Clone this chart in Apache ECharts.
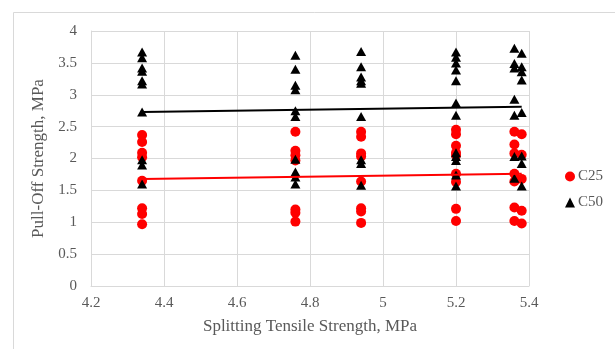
<!DOCTYPE html>
<html>
<head>
<meta charset="utf-8">
<script src="https://cdn.jsdelivr.net/npm/echarts@6/dist/echarts.min.js"></script>
<style>html,body{margin:0;padding:0;background:#fff}#chart{width:615px;height:349px}</style>
</head>
<body>
<div id="chart"></div>
<script>
// Splitting tensile strength (x) columns
const columnX = [4.34, 4.76, 4.94, 5.2, 5.36, 5.38];
// C25 pull-off strength values for each column
const c25Col1 = [2.37, 2.26, 2.09, 2.02, 1.65, 1.22, 1.13, 0.97];
const c25Col2 = [2.42, 2.12, 2.05, 1.97, 1.20, 1.15, 1.01];
const c25Col3 = [2.42, 2.34, 2.08, 2.03, 1.64, 1.22, 1.17, 0.99];
const c25Col4 = [2.45, 2.38, 2.20, 2.09, 2.05, 1.76, 1.63, 1.21, 1.02];
const c25Col5 = [2.42, 2.22, 2.08, 1.76, 1.64, 1.23, 1.02];
const c25Col6 = [2.38, 2.06, 1.68, 1.18, 0.98];
// C50 pull-off strength values for each column
const c50Col1 = [3.67, 3.58, 3.42, 3.37, 3.22, 3.17, 2.73, 1.98, 1.90, 1.60];
const c50Col2 = [3.62, 3.40, 3.15, 3.08, 2.75, 2.66, 1.99, 1.79, 1.71, 1.60];
const c50Col3 = [3.68, 3.44, 3.28, 3.22, 3.18, 2.66, 1.98, 1.92, 1.58];
const c50Col4 = [3.67, 3.59, 3.50, 3.39, 3.22, 2.87, 2.68, 2.09, 2.03, 1.97, 1.74, 1.57];
const c50Col5 = [3.73, 3.49, 3.42, 2.93, 2.68, 2.03, 1.69];
const c50Col6 = [3.65, 3.44, 3.36, 3.23, 2.72, 2.04, 1.92, 1.57];
// Linear trendline end points (x, y)
const trendX = [4.34, 5.38];
const c25TrendY = [1.68, 1.76];
const c50TrendY = [2.73, 2.81];
// Axis ticks
const xTicks = [4.2, 4.4, 4.6, 4.8, 5, 5.2, 5.4];
const yTicks = [0, 0.5, 1, 1.5, 2, 2.5, 3, 3.5, 4];

const c25Cols = [c25Col1, c25Col2, c25Col3, c25Col4, c25Col5, c25Col6];
const c50Cols = [c50Col1, c50Col2, c50Col3, c50Col4, c50Col5, c50Col6];
function toPoints(cols) {
  const out = [];
  cols.forEach((vals, i) => vals.forEach(v => out.push([columnX[i], v])));
  return out;
}
const font = '"Liberation Serif", "Times New Roman", serif';
const gray = '#595959';

const chart = echarts.init(document.getElementById('chart'), null, {renderer: 'canvas'});
chart.setOption({
  animation: false,
  backgroundColor: '#fff',
  graphic: [{
    type: 'rect', z: -10, silent: true,
    shape: {x: 13.5, y: 12.5, width: 700, height: 400},
    style: {fill: 'none', stroke: '#d9d9d9', lineWidth: 1}
  }],
  grid: {left: 91, right: 86, top: 31, bottom: 63},
  xAxis: {
    type: 'value', min: xTicks[0], max: xTicks[xTicks.length - 1], interval: 0.2,
    name: 'Splitting Tensile Strength, MPa', nameLocation: 'middle', nameGap: 32,
    nameTextStyle: {fontFamily: font, fontSize: 17, color: gray},
    axisLine: {show: true, lineStyle: {color: '#d9d9d9'}},
    axisTick: {show: false},
    axisLabel: {fontFamily: font, fontSize: 15, color: gray, margin: 10,
      formatter: v => String(Math.round(v * 10) / 10)},
    splitLine: {show: true, lineStyle: {color: '#d9d9d9'}}
  },
  yAxis: {
    type: 'value', min: yTicks[0], max: yTicks[yTicks.length - 1], interval: 0.5,
    name: 'Pull-Off Strength, MPa', nameLocation: 'middle', nameGap: 40, nameRotate: 90,
    nameTextStyle: {fontFamily: font, fontSize: 17, color: gray},
    axisLine: {show: true, lineStyle: {color: '#d9d9d9'}},
    axisTick: {show: false},
    axisLabel: {fontFamily: font, fontSize: 15, color: gray, margin: 14},
    splitLine: {show: true, lineStyle: {color: '#d9d9d9'}}
  },
  legend: {
    data: ['C25', 'C50'], orient: 'vertical', left: 560, top: 164,
    itemWidth: 10, itemHeight: 10, itemGap: 11,
    textStyle: {fontFamily: font, fontSize: 15, color: gray, padding: [0, 0, 0, -2]}
  },
  series: [
    {name: 'C25', type: 'scatter', data: toPoints(c25Cols), symbol: 'circle', symbolSize: 10,
      itemStyle: {color: '#ff0000', opacity: 1}, z: 2},
    {name: 'C50', type: 'scatter', data: toPoints(c50Cols), symbol: 'triangle', symbolSize: [10, 9],
      itemStyle: {color: '#000000', opacity: 1}, z: 3},
    {name: 'C25 trend', type: 'line', data: trendX.map((x, i) => [x, c25TrendY[i]]),
      showSymbol: false, lineStyle: {color: '#ff0000', width: 2}, z: 4, silent: true},
    {name: 'C50 trend', type: 'line', data: trendX.map((x, i) => [x, c50TrendY[i]]),
      showSymbol: false, lineStyle: {color: '#000000', width: 2}, z: 4, silent: true}
  ]
});
</script>
</body>
</html>
